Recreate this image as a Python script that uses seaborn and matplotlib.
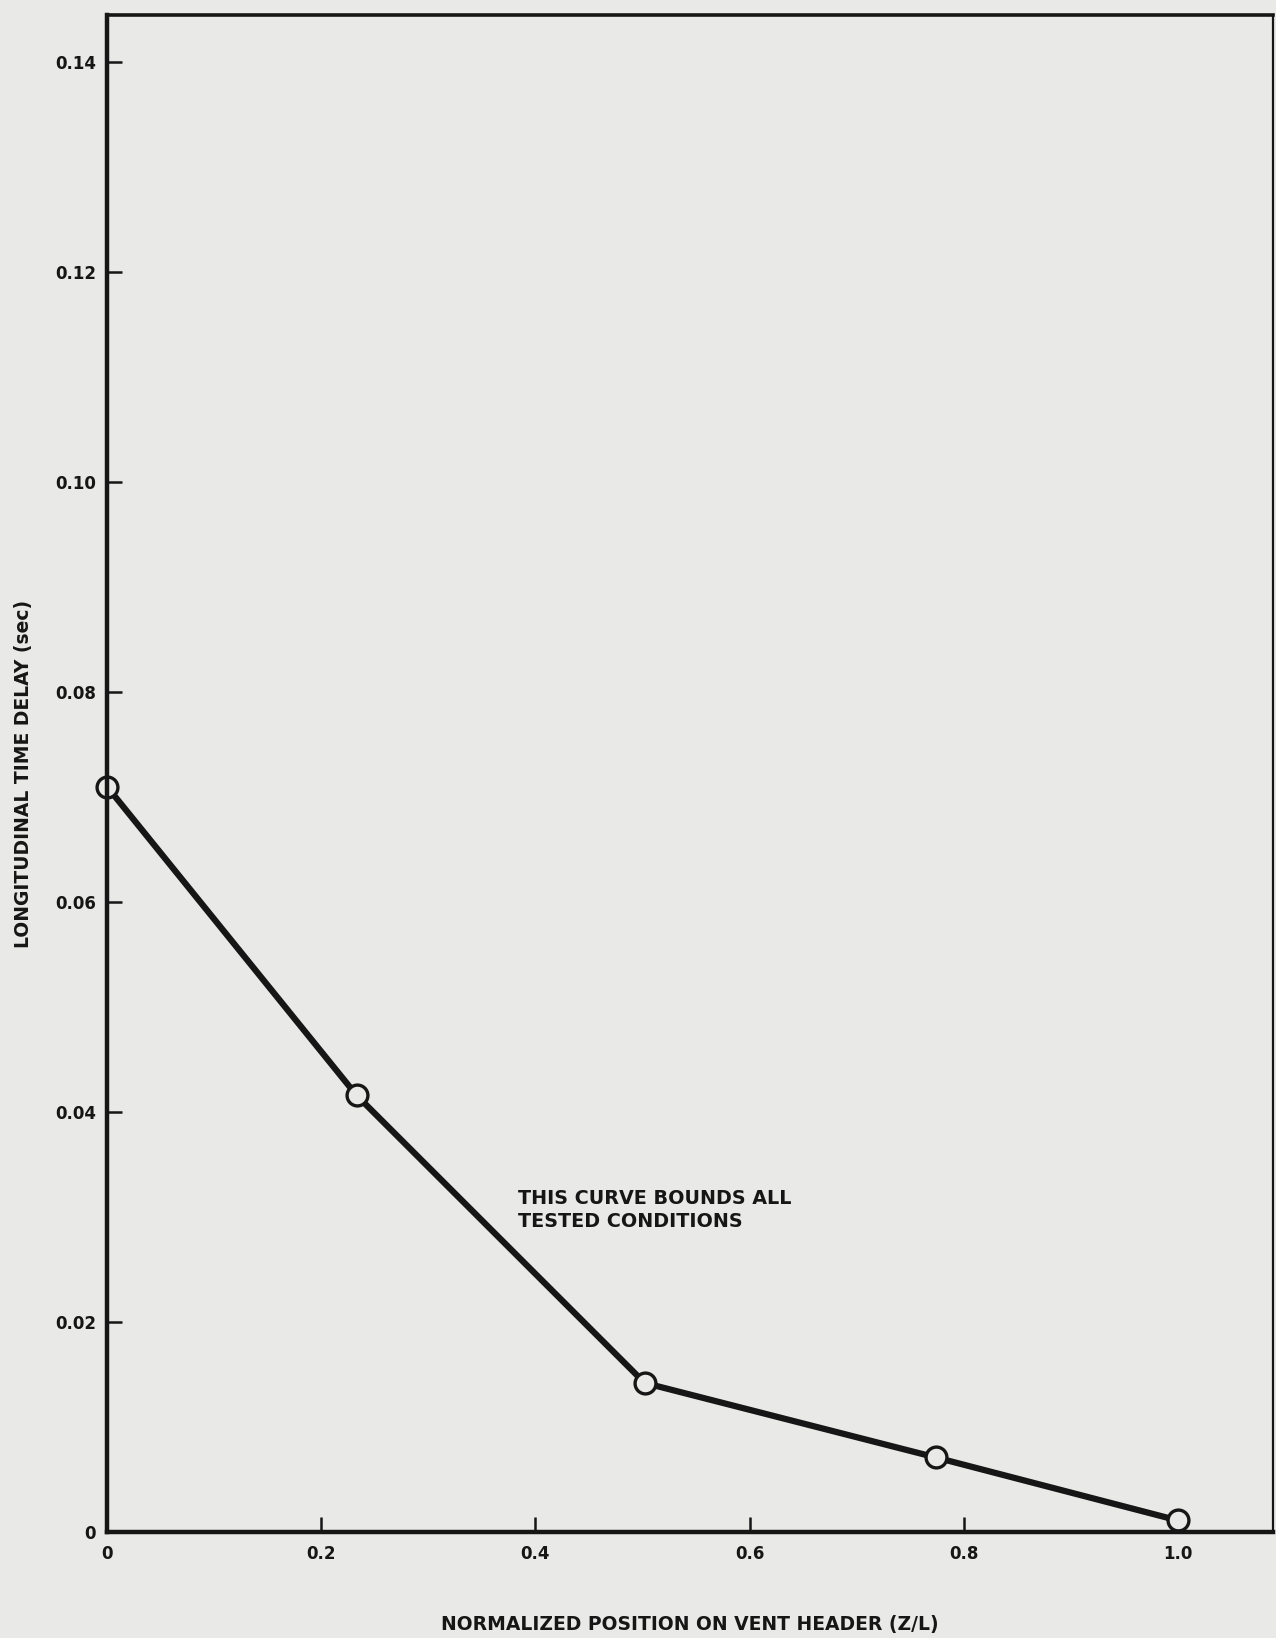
import matplotlib
matplotlib.use('Agg')

import matplotlib.pyplot as plt
import seaborn as sns

# data
position = [0.0, 0.233, 0.502, 0.774, 1.0]
delay = [0.0710, 0.0416, 0.0142, 0.0071, 0.0011]

x_ticks = [0, 0.2, 0.4, 0.6, 0.8, 1.0]
x_tick_labels = ['0', '0.2', '0.4', '0.6', '0.8', '1.0']
y_ticks = [0, 0.02, 0.04, 0.06, 0.08, 0.10, 0.12, 0.14]
y_tick_labels = ['0', '0.02', '0.04', '0.06', '0.08', '0.10', '0.12', '0.14']

paper = '#e9e9e7'
ink = '#161616'

sns.set_theme(style="white")
plt.rcParams['font.family'] = ['DejaVu Sans']

fig = plt.figure(figsize=(12.76, 16.38), dpi=100, facecolor=paper)
ax = fig.add_axes([0.0839, 0.0647, 0.914, 0.9261])
ax.set_facecolor(paper)

sns.lineplot(x=position, y=delay, ax=ax, color=ink, linewidth=4.5,
             marker='o', markersize=15, markerfacecolor=paper,
             markeredgecolor=ink, markeredgewidth=2.4, clip_on=False)

ax.set_xlim(0, 1.089)
ax.set_ylim(0, 0.1445)

ax.set_xticks(x_ticks)
ax.set_xticklabels(x_tick_labels, fontsize=12, fontweight='bold', color=ink)
ax.set_yticks(y_ticks)
ax.set_yticklabels(y_tick_labels, fontsize=12, fontweight='bold', color=ink)
ax.tick_params(axis='both', direction='in', length=11, width=1.8, color=ink,
               bottom=True, left=True, top=False, right=False)
ax.tick_params(axis='x', pad=9)
ax.tick_params(axis='y', pad=8)

for side, lw in [('left', 3.2), ('bottom', 3.2), ('top', 2.6), ('right', 1.6)]:
    ax.spines[side].set_visible(True)
    ax.spines[side].set_linewidth(lw)
    ax.spines[side].set_color(ink)

ax.set_xlabel('NORMALIZED POSITION ON VENT HEADER (Z/L)', fontsize=13.5,
              fontweight='bold', color=ink, labelpad=38)
ax.set_ylabel('LONGITUDINAL TIME DELAY (sec)', fontsize=13.5,
              fontweight='bold', color=ink, labelpad=16)

ax.text(0.384, 0.0327, 'THIS CURVE BOUNDS ALL\nTESTED CONDITIONS', fontsize=13.8,
        fontweight='bold', color=ink, va='top', ha='left', linespacing=1.3)

fig.savefig('out.png', dpi=100, facecolor=paper)
